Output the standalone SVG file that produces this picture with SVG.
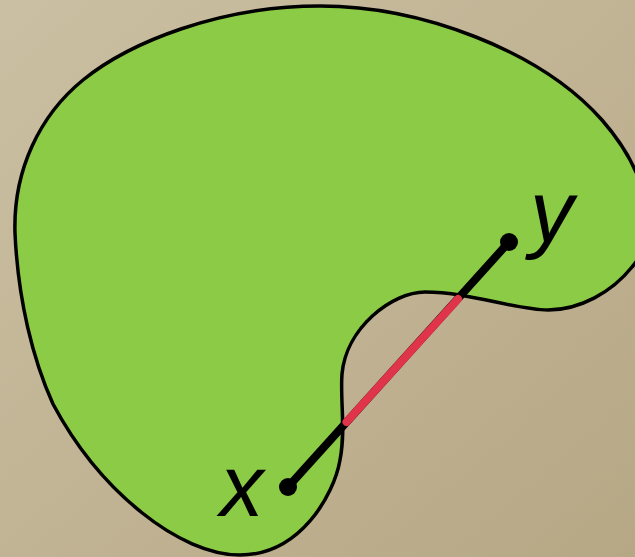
<svg xmlns="http://www.w3.org/2000/svg" width="635" height="557" viewBox="0 0 635 557">
  <defs>
    <linearGradient id="bg" x1="0" y1="0" x2="1" y2="1">
      <stop offset="0" stop-color="#CCC0A3"/>
      <stop offset="1" stop-color="#B6A783"/>
    </linearGradient>
    <filter id="grain" x="0" y="0" width="100%" height="100%">
      <feTurbulence type="fractalNoise" baseFrequency="0.9" numOctaves="2" seed="3" result="n"/>
      <feColorMatrix type="matrix" values="0 0 0 0 0.5  0 0 0 0 0.45  0 0 0 0 0.35  0 0 0 0.12 0"/>
    </filter>
    <style>
      .outline { fill: #8BCB45; stroke: #000; stroke-width: 3.5; stroke-linejoin: round; }
      .seg { stroke: #000; stroke-width: 8; stroke-linecap: round; fill: none; }
      .outside { stroke: #E0344A; stroke-width: 8; stroke-linecap: round; fill: none; }
      .dot { fill: #000; }
      .lbl { font-family: "Liberation Sans", Arial, sans-serif; font-style: italic; font-size: 87px; fill: #000; }
    </style>
  </defs>

  <rect width="635" height="557" fill="url(#bg)"/>
  <rect width="635" height="557" filter="url(#grain)"/>

  <g id="region">
    <path class="outline" d="M 320,6
      C 420,6 540,50 602,120
      C 650,175 660,235 632,267
      C 612,292 580,310 548,310
      C 515,310 470,292 425,292
      C 392,292 346,328 342,374
      C 340,400 346,430 340,460
      C 334,495 300,555 240,555
      C 180,555 100,492 53,404
      C 33,360 18,300 15,233
      C 13,170 40,115 83,80
      C 130,42 220,6 320,6 Z"/>
  </g>

  <g id="connectors">
    <line class="seg" x1="288" y1="487" x2="509" y2="242"/>
    <line class="outside" x1="346.5" y1="422" x2="458" y2="299"/>
  </g>

  <g id="node-x">
    <circle class="dot" cx="288" cy="487" r="9"/>
    <text class="lbl" x="220" y="516">x</text>
  </g>

  <g id="node-y">
    <circle class="dot" cx="509" cy="242" r="9"/>
    <text class="lbl" x="530" y="242">y</text>
  </g>
</svg>
